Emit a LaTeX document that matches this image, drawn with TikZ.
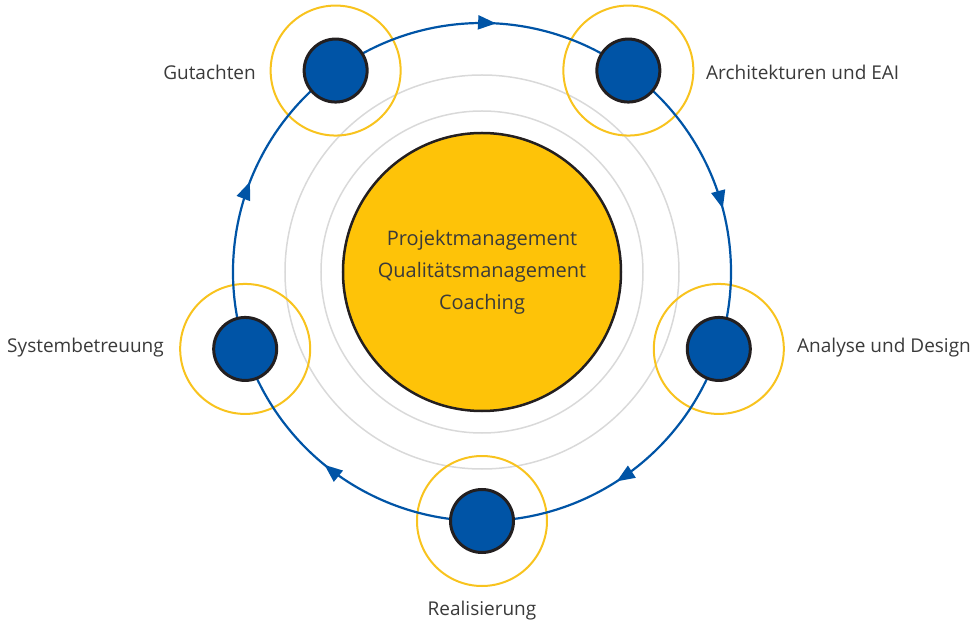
\documentclass[tikz,border=0pt]{standalone}
\usepackage{fontspec}
\setmainfont{Open Sans}
\usetikzlibrary{arrows.meta,decorations.markings}
\pgfdeclarelayer{background}
\pgfdeclarelayer{back2}
\pgfsetlayers{back2,background,main}
\definecolor{cblue}{HTML}{0054A6}
\definecolor{cyellow}{HTML}{FEC308}
\definecolor{cring}{HTML}{F8C31E}
\definecolor{coutline}{HTML}{231F20}
\definecolor{cgrey}{HTML}{D9D9D9}
\definecolor{ctext}{HTML}{3A3A3A}
\tikzset{
  stepnode/.style={circle, draw=coutline, line width=3pt, fill=cblue, minimum size=63pt, inner sep=0pt},
  ringline/.style={draw=cring, line width=2pt},
  greyring/.style={draw=cgrey, line width=1.5pt},
  orbit/.style={draw=cblue, line width=2.2pt,
    postaction={decorate},
    decoration={markings, mark=at position 0.545 with {\arrow{Triangle[length=18pt,width=14pt]}}}},
  lbl/.style={text=ctext, font=\fontsize{19}{22}\selectfont, inner sep=0pt},
  centertext/.style={text=ctext, font=\fontsize{20}{32}\selectfont, align=center, inner sep=0pt}
}
\begin{document}
\begin{tikzpicture}[x=1pt,y=1pt]
\useasboundingbox (-482,-351) rectangle (492,272);
% center
\node[circle, draw=coutline, line width=2.5pt, fill=cyellow, minimum size=278pt, inner sep=0pt] (core) at (0,0) {};
\node[centertext] (coretext) at (0,0) {Projektmanagement\\Qualitätsmanagement\\Coaching};
% step nodes
\node[stepnode] (g) at (126:249) {};
\node[stepnode] (a) at (54:249) {};
\node[stepnode] (d) at (-18:249) {};
\node[stepnode] (r) at (-90:249) {};
\node[stepnode] (s) at (198:249) {};
% labels
\node[lbl, anchor=east] (lg) at (-226,200) {Gutachten};
\node[lbl, anchor=west] (la) at (224,200) {Architekturen und EAI};
\node[lbl, anchor=west] (ld) at (315,-76) {Analyse und Design};
\node[lbl, anchor=east] (ls) at (-318,-76) {Systembetreuung};
\node[lbl, anchor=center] (lr) at (0,-339) {Realisierung};
\begin{pgfonlayer}{back2}
  \draw[greyring] (core.center) circle[radius=197];
  \draw[greyring] (core.center) circle[radius=161];
\end{pgfonlayer}
\begin{pgfonlayer}{background}
  \foreach \n in {g,a,d,r,s} {\draw[ringline] (\n.center) circle[radius=65];}
  \draw[orbit] (g.center) arc[start angle=126, end angle=54, radius=249];
  \draw[orbit] (a.center) arc[start angle=54, end angle=-18, radius=249];
  \draw[orbit] (d.center) arc[start angle=-18, end angle=-90, radius=249];
  \draw[orbit] (r.center) arc[start angle=-90, end angle=-162, radius=249];
  \draw[orbit] (s.center) arc[start angle=198, end angle=126, radius=249];
\end{pgfonlayer}
\end{tikzpicture}
\end{document}
